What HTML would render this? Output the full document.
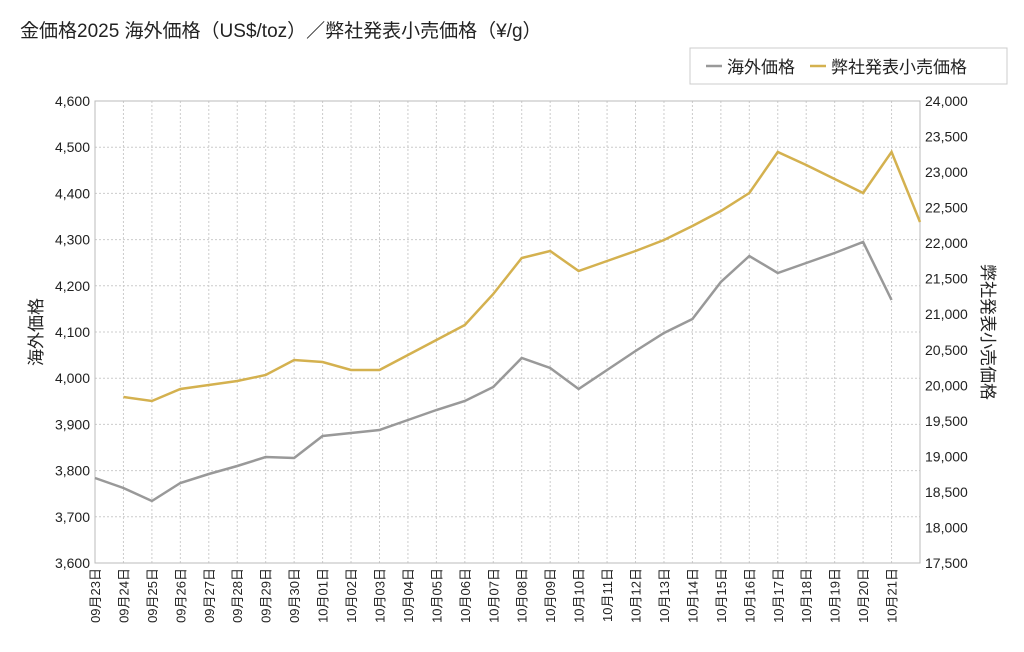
<!DOCTYPE html>
<html><head><meta charset="utf-8"><style>
body{margin:0;background:#fff;}
svg{display:block;font-family:"Liberation Sans","Noto Sans CJK JP",sans-serif;}
</style></head><body>
<svg width="1024" height="652" viewBox="0 0 1024 652" xmlns="http://www.w3.org/2000/svg">
<rect width="1024" height="652" fill="#fff"/>
<text x="20" y="37" font-size="19" fill="#222">金価格2025 海外価格（US$/toz）／弊社発表小売価格（¥/g）</text>
<rect x="690" y="48" width="317" height="36" fill="#fff" stroke="#ccc"/>
<line x1="706" y1="66" x2="722" y2="66" stroke="#999" stroke-width="2.5"/>
<text x="727" y="73" font-size="17" fill="#222">海外価格</text>
<line x1="810" y1="66" x2="826" y2="66" stroke="#d4b14f" stroke-width="2.5"/>
<text x="831" y="73" font-size="17" fill="#222">弊社発表小売価格</text>
<g id="grid" stroke="#ccc" stroke-dasharray="2,2" stroke-width="1"></g>
<g id="lab" font-size="14" fill="#222"></g>
<text transform="translate(42,332) rotate(-90)" text-anchor="middle" font-size="17" fill="#222">海外価格</text>
<text transform="translate(982,332) rotate(90)" text-anchor="middle" font-size="17" fill="#222">弊社発表小売価格</text>
<polyline id="gray" fill="none" stroke="#999" stroke-width="2.5"/>
<polyline id="gold" fill="none" stroke="#d4b14f" stroke-width="2.5"/>
</svg>
<script>
const ns="http://www.w3.org/2000/svg";
const g=document.getElementById('grid'),L=document.getElementById('lab');
function el(p,t,a,txt){const e=document.createElementNS(ns,t);for(const k in a)e.setAttribute(k,a[k]);if(txt)e.textContent=txt;p.appendChild(e);return e;}
const x0=95,x1=920,dx=(x1-x0)/29,yT=101,yB=563;
for(let i=0;i<=10;i++){const y=yT+(yB-yT)*i/10;el(g,'line',{x1:x0,x2:x1,y1:y,y2:y});
el(L,'text',{x:90,y:y+5,'text-anchor':'end'},(4600-i*100).toLocaleString('en-US'));}
for(let i=0;i<=13;i++){const y=yT+(yB-yT)*i/13;el(L,'text',{x:925,y:y+5},(24000-i*500).toLocaleString('en-US'));}
const labs=[];for(let d=23;d<=30;d++)labs.push('09月'+d+'日');for(let d=1;d<=21;d++)labs.push('10月'+String(d).padStart(2,'0')+'日');
for(let i=0;i<=29;i++){const x=x0+i*dx;el(g,'line',{x1:x,x2:x,y1:yT,y2:yB});}
labs.forEach((t,i)=>{const x=x0+i*dx;el(L,'text',{transform:`translate(${x+5},568) rotate(-90)`,'text-anchor':'end','font-size':13},t);});
el(g,'rect',{x:x0,y:yT,width:x1-x0,height:yB-yT,fill:'none','stroke-dasharray':'none',stroke:'#bbb'});
const gray=[478,488,501,483,474,466,457,458,436,433,430,420,410,401,387,358,368,389,370,351,333,319,282,256,273,263,253,242,300];
const gold=[null,397,401,389,385,381,375,360,362,370,370,355,340,325,294,258,251,271,261,251,240,226,211,193,152,165,179,193,152,222];
document.getElementById('gray').setAttribute('points',gray.map((y,i)=>(x0+i*dx)+','+y).join(' '));
document.getElementById('gold').setAttribute('points',gold.map((y,i)=>y==null?'':(x0+i*dx)+','+y).join(' ').trim());
</script>
</body></html>
